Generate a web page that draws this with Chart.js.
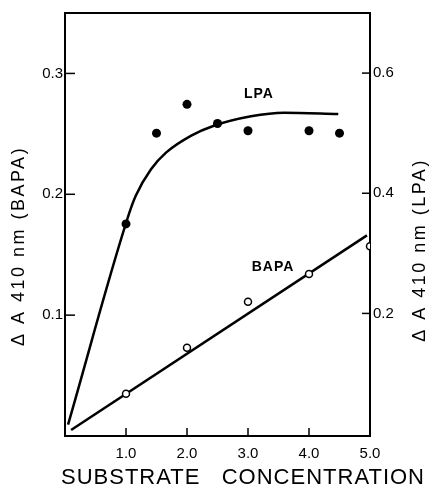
<!DOCTYPE html>
<html>
<head>
<meta charset="utf-8">
<script src="https://cdn.jsdelivr.net/npm/chart.js@4.4.1/dist/chart.umd.min.js"></script>
<style>
  html, body { margin: 0; padding: 0; background: #fff; }
  #wrap { width: 433px; height: 495px; }
</style>
</head>
<body>
<div id="wrap"><canvas id="myChart" width="433" height="495"></canvas></div>
<script>
// BAPA, open circles, left axis
const bapaConc = [1.0, 2.0, 3.0, 4.0, 5.0]
const bapaValues = [0.035, 0.073, 0.111, 0.134, 0.157]
// BAPA straight fit line
const bapaLineConc = [0.1, 4.95]
const bapaLineValues = [0.005, 0.166]

// LPA, filled circles, right axis
const lpaConc = [1.0, 1.5, 2.0, 2.5, 3.0, 4.0, 4.5]
const lpaValues = [0.349, 0.500, 0.548, 0.516, 0.504, 0.504, 0.500]
// LPA drawn curve
const lpaCurveConc = [0.05, 1.05, 1.16, 1.41, 1.66, 2.07, 2.43, 3.05, 3.59, 4.48]
const lpaCurveValues = [0.015, 0.366, 0.396, 0.440, 0.468, 0.496, 0.512, 0.528, 0.534, 0.532]

const xTicks = [1.0, 2.0, 3.0, 4.0, 5.0]
const leftTicks = [0.1, 0.2, 0.3]
const rightTicks = [0.2, 0.4, 0.6]

const FONT = '"Liberation Sans", Arial, sans-serif'

function toPoints(xs, ys) {
    return xs.map((x, i) => ({x: x, y: ys[i]}))
}

const inwardTicks = {
    id: 'inwardTicks',
    afterDatasetsDraw(chart) {
        const ctx = chart.ctx
        const area = chart.chartArea
        const sx = chart.scales.x, sy = chart.scales.y, sy2 = chart.scales.y2
        ctx.save()
        ctx.strokeStyle = '#000'
        ctx.lineWidth = 2
        // top frame line
        ctx.beginPath()
        ctx.moveTo(area.left - 1, area.top)
        ctx.lineTo(area.right + 1, area.top)
        ctx.stroke()
        ctx.lineWidth = 1.5
        leftTicks.forEach(v => {
            const p = sy.getPixelForValue(v)
            ctx.beginPath(); ctx.moveTo(area.left, p); ctx.lineTo(area.left + 10, p); ctx.stroke()
        })
        rightTicks.forEach(v => {
            const p = sy2.getPixelForValue(v)
            ctx.beginPath(); ctx.moveTo(area.right, p); ctx.lineTo(area.right - 8, p); ctx.stroke()
        })
        xTicks.forEach(v => {
            const p = sx.getPixelForValue(v)
            ctx.beginPath(); ctx.moveTo(p, area.bottom); ctx.lineTo(p, area.bottom - 8); ctx.stroke()
        })
        ctx.restore()
    }
}

const textLabels = {
    id: 'textLabels',
    afterDraw(chart) {
        const ctx = chart.ctx
        const sx = chart.scales.x, sy = chart.scales.y
        ctx.save()
        ctx.fillStyle = '#000'
        ctx.textAlign = 'center'
        ctx.textBaseline = 'middle'

        // series labels inside the plot
        ctx.font = 'bold 14px ' + FONT
        ctx.letterSpacing = '1px'
        ctx.fillText('LPA', sx.getPixelForValue(3.18), sy.getPixelForValue(0.283))
        ctx.fillText('BAPA', sx.getPixelForValue(3.41), sy.getPixelForValue(0.140))

        // axis titles
        ctx.font = '18px ' + FONT
        ctx.letterSpacing = '2.5px'
        ctx.save()
        ctx.translate(19, 246)
        ctx.rotate(-Math.PI / 2)
        ctx.fillText('\u0394 A 410 nm (BAPA)', 0, 0)
        ctx.restore()
        ctx.save()
        ctx.translate(420, 250)
        ctx.rotate(-Math.PI / 2)
        ctx.fillText('\u0394 A 410 nm (LPA)', 0, 0)
        ctx.restore()

        ctx.font = '22px ' + FONT
        ctx.letterSpacing = '1px'
        ctx.fillText('SUBSTRATE   CONCENTRATION', 243, 478)
        ctx.restore()
    }
}

const data = {
    datasets: [
        {
            label: 'LPA',
            type: 'scatter',
            data: toPoints(lpaConc, lpaValues),
            yAxisID: 'y2',
            pointRadius: 4.5,
            pointBackgroundColor: '#000',
            pointBorderColor: '#000',
            pointBorderWidth: 0,
            order: 0
        },
        {
            label: 'BAPA',
            type: 'scatter',
            data: toPoints(bapaConc, bapaValues),
            yAxisID: 'y',
            pointRadius: 3.5,
            pointBackgroundColor: '#fff',
            pointBorderColor: '#000',
            pointBorderWidth: 1.5,
            order: 0
        },
        {
            label: 'LPA curve',
            type: 'line',
            data: toPoints(lpaCurveConc, lpaCurveValues),
            yAxisID: 'y2',
            borderColor: '#000',
            borderWidth: 2.5,
            pointRadius: 0,
            cubicInterpolationMode: 'monotone',
            fill: false,
            order: 1
        },
        {
            label: 'BAPA line',
            type: 'line',
            data: toPoints(bapaLineConc, bapaLineValues),
            yAxisID: 'y',
            borderColor: '#000',
            borderWidth: 2.5,
            pointRadius: 0,
            fill: false,
            order: 1
        }
    ]
}

const config = {
    type: 'scatter',
    data: data,
    options: {
        responsive: false,
        animation: false,
        devicePixelRatio: 1,
        layout: { padding: { top: 13, left: 0, right: 0, bottom: 0 } },
        plugins: {
            legend: { display: false },
            tooltip: { enabled: false }
        },
        scales: {
            x: {
                type: 'linear',
                position: 'bottom',
                min: 0,
                max: 5,
                grid: { display: false, drawTicks: false },
                border: { display: true, color: '#000', width: 2 },
                afterBuildTicks: s => { s.ticks = xTicks.map(v => ({value: v})) },
                afterFit: s => { s.height = 59 },
                ticks: {
                    color: '#000',
                    padding: 9,
                    maxRotation: 0,
                    font: { family: FONT, size: 15 },
                    callback: v => v.toFixed(1)
                }
            },
            y: {
                type: 'linear',
                position: 'left',
                min: 0,
                max: 0.35,
                grid: { display: false, drawTicks: false },
                border: { display: true, color: '#000', width: 2 },
                afterBuildTicks: s => { s.ticks = leftTicks.map(v => ({value: v})) },
                afterFit: s => { s.width = 65 },
                ticks: {
                    color: '#000',
                    padding: 2,
                    font: { family: FONT, size: 15 },
                    callback: v => v.toFixed(1)
                }
            },
            y2: {
                type: 'linear',
                position: 'right',
                min: -0.004,
                max: 0.70,
                grid: { display: false, drawTicks: false },
                border: { display: true, color: '#000', width: 2 },
                afterBuildTicks: s => { s.ticks = rightTicks.map(v => ({value: v})) },
                afterFit: s => { s.width = 63 },
                ticks: {
                    color: '#000',
                    padding: 3,
                    font: { family: FONT, size: 15 },
                    callback: v => v.toFixed(1)
                }
            }
        }
    },
    plugins: [inwardTicks, textLabels]
}

const myChart = new Chart(document.getElementById('myChart'), config)
</script>
</body>
</html>
